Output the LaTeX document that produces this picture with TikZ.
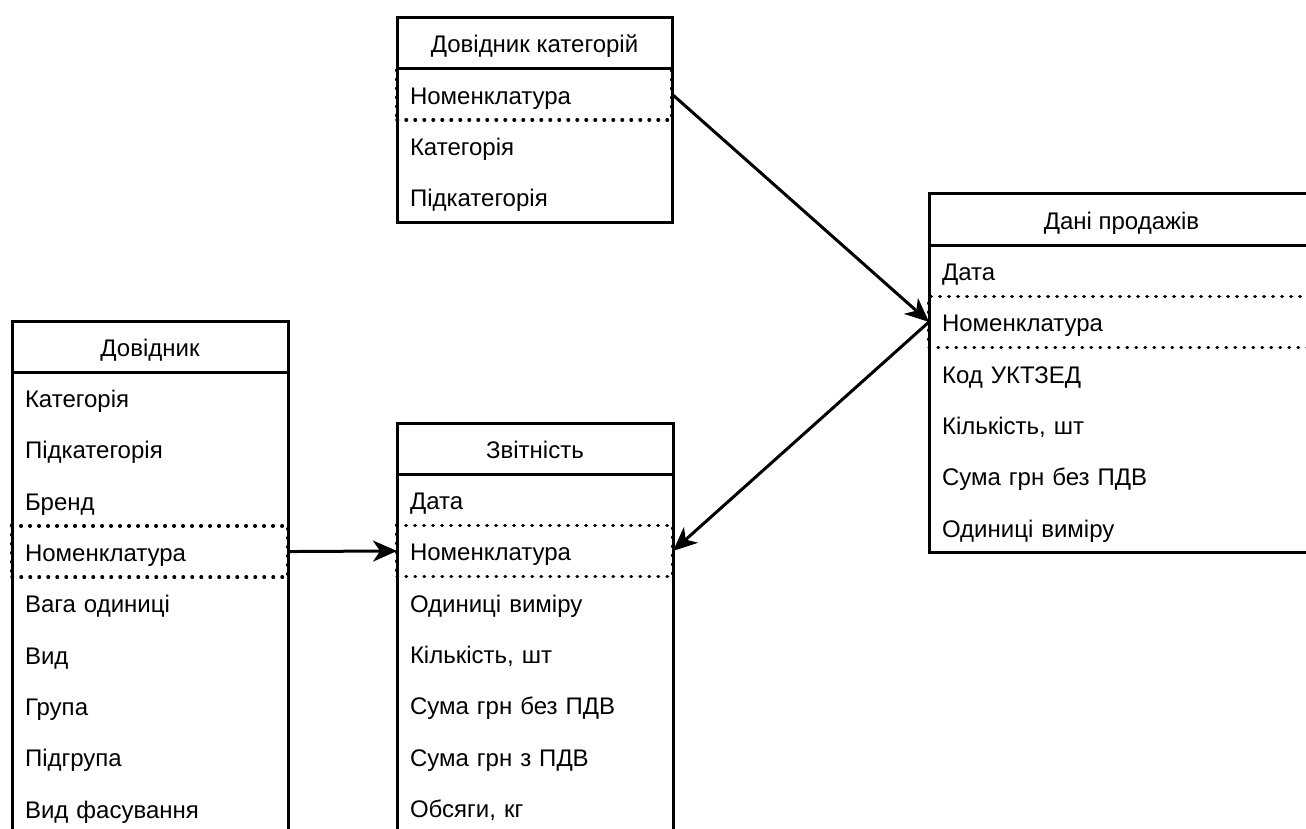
\documentclass[tikz,border=0pt]{standalone}
\usepackage{fontspec}
\setmainfont{Liberation Sans}
\usetikzlibrary{arrows.meta}
\usetikzlibrary{positioning}
\tikzset{>=Stealth}
\tikzstyle{tbl} = [draw = black, line width = 3pt]
\tikzstyle{hdr} = [draw = black, line width = 3pt, inner sep = 0, outer sep = 0, minimum height = 51pt, text height = 21pt, text depth = 1pt, font = \fontsize{24}{28}\selectfont]
\tikzstyle{fld} = [draw = none, inner sep = 0, outer sep = 0, minimum height = 51.3pt, text height = 20pt, text depth = 0pt, align = left, font = \fontsize{24}{28}\selectfont]
\tikzstyle{keyrow} = [fld, draw = black, line width = 3.5pt, dash pattern = on 0.5pt off 8.5pt, line cap = round]
\tikzstyle{arr} = [-{Stealth[length = 24pt, width = 21pt, inset = 7pt]}, draw = black, line width = 3pt]

\begin{document}
\begin{tikzpicture}[x = 1pt, y = -1pt]
\useasboundingbox (0, 0) rectangle (1306, 829);
\clip (0, 0) rectangle (1306, 829);

% Довідник категорій
\node [hdr, minimum width = 275pt] (kat-0) at (534.5, 43) {Довідник категорій};
\foreach \s/\t [count = \i, remember = \i as \j (initially 0)] in {keyrow/Номенклатура, fld/Категорія, fld/Підкатегорія}
  \node [\s, minimum width = 275pt, text width = 249pt, below = 0pt of kat-\j] (kat-\i) {\t};
\draw [tbl] (kat-0.north west) rectangle (kat-3.south east);

% Дані продажів
\node [hdr, minimum width = 385pt] (prod-0) at (1121.5, 219.5) {Дані продажів};
\foreach \s/\t [count = \i, remember = \i as \j (initially 0)] in {fld/Дата, keyrow/Номенклатура, fld/Код УКТЗЕД, fld/{Кількість, шт}, fld/Сума грн без ПДВ, fld/Одиниці виміру}
  \node [\s, minimum width = 385pt, text width = 359pt, below = 0pt of prod-\j] (prod-\i) {\t};
\draw [tbl] (prod-0.north west) rectangle (prod-6.south east);

% Довідник
\node [hdr, minimum width = 276pt] (dov-0) at (150, 346.5) {Довідник};
\foreach \s/\t [count = \i, remember = \i as \j (initially 0)] in {fld/Категорія, fld/Підкатегорія, fld/Бренд, keyrow/Номенклатура, fld/Вага одиниці, fld/Вид, fld/Група, fld/Підгрупа, fld/Вид фасування}
  \node [\s, minimum width = 276pt, text width = 250pt, below = 0pt of dov-\j] (dov-\i) {\t};
\draw [tbl] (dov-0.north west) rectangle (dov-9.south east);

% Звітність
\node [hdr, minimum width = 276pt] (zvit-0) at (535, 448.5) {Звітність};
\foreach \s/\t [count = \i, remember = \i as \j (initially 0)] in {fld/Дата, keyrow/Номенклатура, fld/Одиниці виміру, fld/{Кількість, шт}, fld/Сума грн без ПДВ, fld/Сума грн з ПДВ, fld/{Обсяги, кг}}
  \node [\s, minimum width = 276pt, text width = 250pt, below = 0pt of zvit-\j] (zvit-\i) {\t};
\draw [tbl] (zvit-0.north west) rectangle (zvit-7.south east);

\draw [arr] (kat-1.east) -- (prod-2.west);
\draw [arr] (prod-2.west) -- (zvit-2.east);
\draw [arr] (dov-4.east) -- (zvit-2.west);
\end{tikzpicture}
\end{document}
